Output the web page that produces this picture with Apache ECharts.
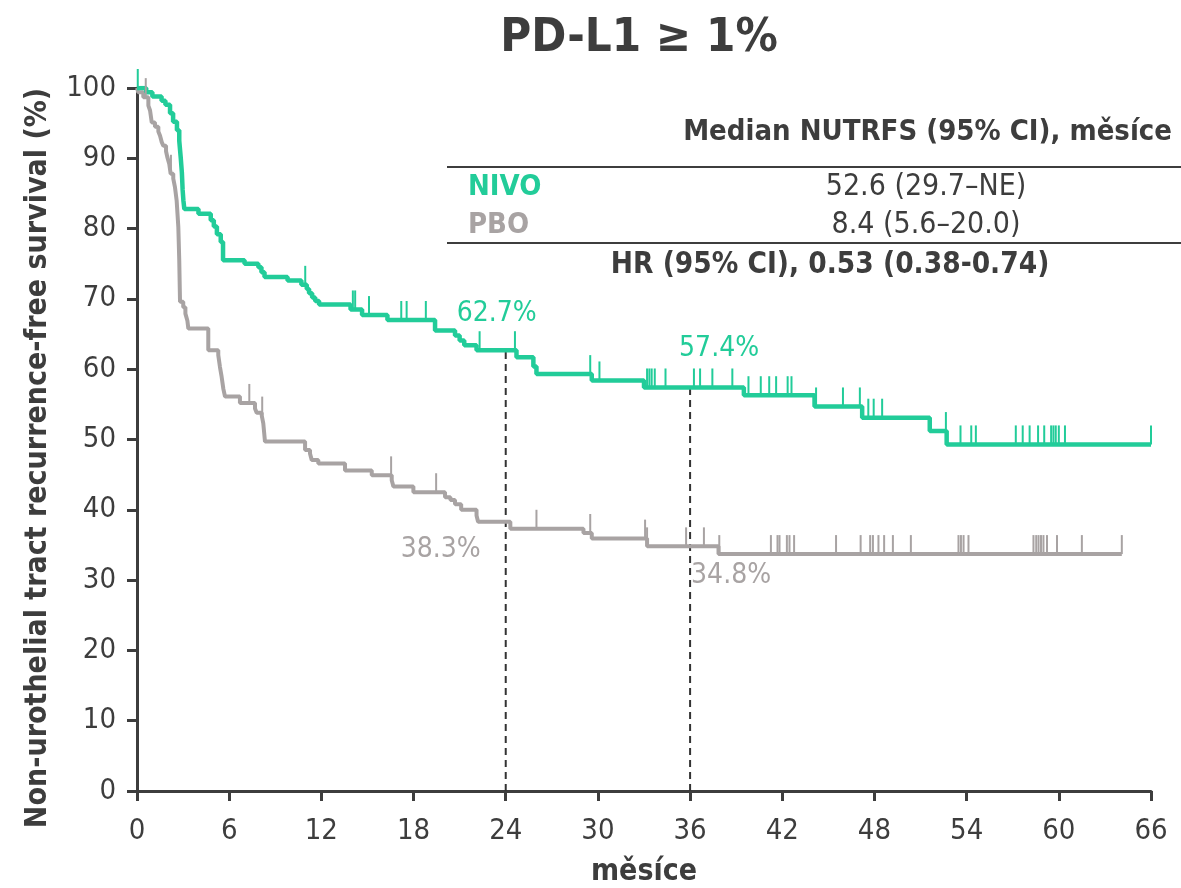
<!DOCTYPE html>
<html>
<head>
<meta charset="utf-8">
<script src="https://cdn.jsdelivr.net/npm/echarts@6/dist/echarts.min.js"></script>
<style>
  html, body { margin: 0; padding: 0; background: #ffffff; }
  #chart { width: 1181px; height: 888px; }
</style>
</head>
<body>
<div id="chart"></div>
<script>
// Kaplan–Meier steps: [month, survival % after the event]
const nivoSteps = [
  [0, 100], [0.6, 99.4], [1.0, 98.8], [1.6, 98.2], [1.85, 97.6], [2.15, 96.4],
  [2.35, 95.2], [2.6, 94.0], [2.75, 92.5], [2.85, 90.0], [2.92, 88.0], [2.97, 85.5],
  [3.02, 84.0], [3.08, 82.8], [4.0, 82.1], [4.8, 81.2], [5.0, 80.3], [5.2, 79.2],
  [5.45, 78.1], [5.6, 75.5], [7.0, 75.0], [7.9, 74.5], [8.1, 73.8], [8.3, 73.1],
  [9.8, 72.6], [10.7, 72.0], [11.05, 71.4], [11.2, 70.8], [11.4, 70.2], [11.6, 69.7],
  [11.85, 69.2], [13.9, 68.5], [14.65, 67.7], [16.3, 67.0], [19.4, 65.5], [20.7, 64.8],
  [21.0, 64.1], [21.3, 63.4], [22.1, 62.7], [24.7, 61.7], [25.8, 60.4], [26.0, 59.3],
  [29.6, 58.4], [33.0, 57.4], [39.5, 56.3], [44.1, 54.7], [47.2, 53.1], [51.6, 51.2],
  [52.7, 49.3], [66.0, 49.3]
];
const pboSteps = [
  [0, 100], [0.08, 99.4], [0.41, 98.7], [0.74, 97.5], [0.85, 96.8], [0.96, 95.1],
  [1.17, 94.5], [1.39, 93.8], [1.5, 93.2], [1.61, 92.3], [1.71, 91.8], [1.89, 91.0],
  [1.97, 90.2], [2.1, 89.2], [2.19, 87.8], [2.36, 87.1], [2.47, 85.9], [2.58, 84.0],
  [2.69, 80.2], [2.75, 75.5], [2.8, 69.6], [3.01, 68.8], [3.15, 67.9], [3.28, 66.9],
  [3.34, 65.8], [4.64, 62.7], [5.29, 62.0], [5.4, 60.3], [5.51, 58.9], [5.62, 57.2],
  [5.73, 56.1], [6.7, 55.2], [7.68, 54.4], [7.79, 53.8], [8.12, 53.4], [8.22, 52.3],
  [8.33, 49.7], [10.94, 48.5], [11.26, 48.0], [11.37, 47.1], [11.8, 46.6], [13.54, 45.6],
  [15.28, 44.9], [16.58, 44.2], [16.69, 43.3], [17.99, 42.5], [20.05, 41.8], [20.4, 41.4],
  [20.7, 40.8], [21.1, 40.0], [22.1, 39.2], [22.2, 38.3], [24.3, 37.3], [29.06, 36.7],
  [29.6, 35.9], [33.2, 34.8], [37.85, 33.7], [64.1, 33.7]
];

// Censoring times (months)
const nivoCensored = [
  0.05, 10.95, 14.05, 14.2, 15.1, 17.2, 17.55, 18.8, 22.3, 24.6, 29.5, 30.1,
  33.2, 33.35, 33.5, 33.7, 34.4, 36.25, 36.65, 37.45, 38.75, 39.8, 40.6, 41.15,
  41.6, 42.35, 42.6, 44.2, 45.95, 47.05, 47.6, 47.95, 48.5, 52.65, 53.6, 54.3,
  54.6, 57.2, 57.65, 58.1, 58.65, 59.05, 59.5, 59.65, 59.8, 60.0, 60.4, 66.0
];
const pboCensored = [
  0.57, 2.21, 7.31, 8.15, 16.54, 19.47, 26.0, 29.5, 33.07, 33.2, 35.74, 36.9,
  37.9, 41.26, 41.69, 41.82, 42.3, 42.47, 42.77, 45.5, 47.1, 47.72, 47.9, 48.26,
  48.63, 49.2, 50.37, 53.47, 53.63, 53.8, 54.12, 58.35, 58.53, 58.68, 58.84, 59.0,
  59.23, 59.88, 61.5, 64.1
];

// Landmark estimates
const landmarkMonths = [24, 36];
const nivoLandmark = [62.7, 57.4];
const pboLandmark = [38.3, 34.8];

// Summary table
const tableHeader = 'Median NUTRFS (95% CI), měsíce';
const armNames = ['NIVO', 'PBO'];
const armMedians = ['52.6 (29.7–NE)', '8.4 (5.6–20.0)'];
const hrText = 'HR (95% CI), 0.53 (0.38-0.74)';

const FONT = "'DejaVu Sans Condensed', 'DejaVu Sans', sans-serif";
const GREEN = '#22CC99';
const GREY = '#A8A3A3';
const DARK = '#3D3D3D';

function survivalAt(steps, t) {
  let s = steps[0][1];
  for (const [m, v] of steps) { if (m <= t) s = v; else break; }
  return s;
}

function censorSeries(steps, times, color) {
  return {
    type: 'custom',
    z: 4,
    data: times.map(t => [t, survivalAt(steps, t)]),
    renderItem: function (params, api) {
      const p = api.coord([api.value(0), api.value(1)]);
      return {
        type: 'line',
        shape: { x1: p[0], y1: p[1], x2: p[0], y2: p[1] - 19 },
        style: { stroke: color, lineWidth: 2 }
      };
    }
  };
}

const guideSeries = landmarkMonths.map((m, i) => ({
  type: 'line',
  z: 1,
  silent: true,
  symbol: 'none',
  data: [[m, 0], [m, nivoLandmark[i]]],
  lineStyle: { color: '#333333', width: 2, type: [7, 5] }
}));

function landmarkLabels(values, color, offsets) {
  return {
    type: 'scatter',
    z: 5,
    symbolSize: 0,
    itemStyle: { color: 'transparent', opacity: 1 },
    data: landmarkMonths.map((m, i) => ({
      value: [m, values[i]],
      label: { offset: offsets[i] }
    })),
    label: {
      show: true,
      position: 'inside',
      color: color,
      opacity: 1,
      fontFamily: FONT,
      fontSize: 28,
      formatter: p => p.value[1].toFixed(1) + '%'
    }
  };
}

const chart = echarts.init(document.getElementById('chart'), null, { renderer: 'canvas' });

chart.setOption({
  animation: false,
  backgroundColor: '#ffffff',
  title: {
    text: 'PD-L1 ≥ 1%',
    left: 634,
    top: 10,
    textAlign: 'center',
    textStyle: { fontFamily: FONT, fontSize: 47, fontWeight: 'bold', color: DARK }
  },
  grid: { left: 137, right: 30, top: 88, bottom: 97, outerBoundsMode: 'none', containLabel: false },
  xAxis: {
    type: 'value',
    min: 0, max: 66, interval: 6,
    name: 'měsíce',
    nameLocation: 'middle',
    nameGap: 66,
    nameTextStyle: { fontFamily: FONT, fontSize: 30, fontWeight: 'bold', color: DARK },
    axisLine: { lineStyle: { color: DARK, width: 3 } },
    axisTick: { length: 10, lineStyle: { color: DARK, width: 3 } },
    axisLabel: { fontFamily: FONT, fontSize: 29, color: DARK, margin: 26 },
    splitLine: { show: false }
  },
  yAxis: {
    type: 'value',
    min: 0, max: 100, interval: 10,
    axisLine: { show: true, lineStyle: { color: DARK, width: 3 } },
    axisTick: { show: true, length: 10, lineStyle: { color: DARK, width: 3 } },
    axisLabel: { fontFamily: FONT, fontSize: 29, color: DARK, margin: 21 },
    splitLine: { show: false }
  },
  graphic: [
    {
      type: 'text', x: 38, y: 458, rotation: Math.PI / 2,
      style: {
        text: 'Non-urothelial tract recurrence-free survival (%)',
        font: 'bold 30px ' + FONT, fill: DARK,
        align: 'center', verticalAlign: 'middle',
        textAlign: 'center', textVerticalAlign: 'middle'
      }
    },
    {
      type: 'text', x: 1172, y: 132,
      style: { text: tableHeader, font: 'bold 29px ' + FONT, fill: DARK,
        align: 'right', verticalAlign: 'middle', textAlign: 'right', textVerticalAlign: 'middle' }
    },
    { type: 'line', shape: { x1: 447, y1: 167, x2: 1181, y2: 167 }, style: { stroke: DARK, lineWidth: 2 } },
    {
      type: 'text', x: 468, y: 187,
      style: { text: armNames[0], font: 'bold 29px ' + FONT, fill: GREEN,
        align: 'left', verticalAlign: 'middle', textAlign: 'left', textVerticalAlign: 'middle' }
    },
    {
      type: 'text', x: 926, y: 187,
      style: { text: armMedians[0], font: '30px ' + FONT, fill: DARK,
        align: 'center', verticalAlign: 'middle', textAlign: 'center', textVerticalAlign: 'middle' }
    },
    {
      type: 'text', x: 468, y: 225,
      style: { text: armNames[1], font: 'bold 29px ' + FONT, fill: GREY,
        align: 'left', verticalAlign: 'middle', textAlign: 'left', textVerticalAlign: 'middle' }
    },
    {
      type: 'text', x: 926, y: 225,
      style: { text: armMedians[1], font: '30px ' + FONT, fill: DARK,
        align: 'center', verticalAlign: 'middle', textAlign: 'center', textVerticalAlign: 'middle' }
    },
    { type: 'line', shape: { x1: 447, y1: 243, x2: 1181, y2: 243 }, style: { stroke: DARK, lineWidth: 2 } },
    {
      type: 'text', x: 830, y: 265,
      style: { text: hrText, font: 'bold 29.5px ' + FONT, fill: DARK,
        align: 'center', verticalAlign: 'middle', textAlign: 'center', textVerticalAlign: 'middle' }
    }
  ],
  series: [
    ...guideSeries,
    {
      name: armNames[1], type: 'line', step: 'end', z: 3, symbol: 'none',
      data: pboSteps, lineStyle: { color: GREY, width: 4 }
    },
    {
      name: armNames[0], type: 'line', step: 'end', z: 3, symbol: 'none',
      data: nivoSteps, lineStyle: { color: GREEN, width: 4.5 }
    },
    censorSeries(pboSteps, pboCensored, GREY),
    censorSeries(nivoSteps, nivoCensored, GREEN),
    landmarkLabels(nivoLandmark, GREEN, [[-9, -37], [29, -39]]),
    landmarkLabels(pboLandmark, GREY, [[-65, 28], [41, 29]])
  ]
});
</script>
</body>
</html>
